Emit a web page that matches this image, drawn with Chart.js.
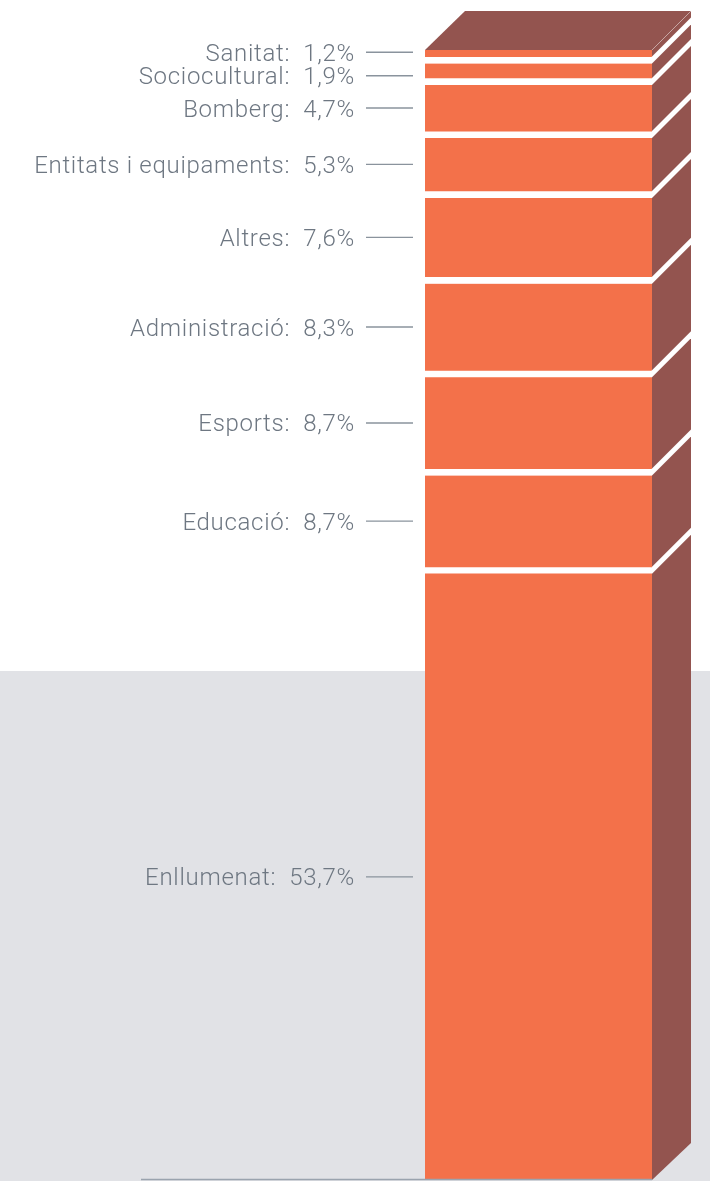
<!DOCTYPE html>
<html>
<head>
<meta charset="utf-8">
<style>
  html, body { margin: 0; padding: 0; background: #ffffff; }
  #wrap { width: 710px; height: 1181px; position: relative; }
  canvas { display: block; }
</style>
<script src="https://cdn.jsdelivr.net/npm/chart.js@4"></script>
</head>
<body>
<div id="wrap"><canvas id="c" width="710" height="1181"></canvas></div>
<script>
// Data: stacked from bottom to top
const categories = ['Enllumenat', 'Educació', 'Esports', 'Administració', 'Altres',
  'Entitats i equipaments', 'Bomberg', 'Sociocultural', 'Sanitat'];
const values = [53.7, 8.7, 8.7, 8.3, 7.6, 5.3, 4.7, 1.9, 1.2];
const valueLabels = ['53,7%', '8,7%', '8,7%', '8,3%', '7,6%', '5,3%', '4,7%', '1,9%', '1,2%'];
const total = values.reduce((a, b) => a + b, 0);

const ORANGE = '#f3714a';
const BROWN = '#93544f';
const GAP = 7;
const DEPTH = 39;
const TEXT = '#6e7782';
const LEADER = '#8a939d';
const GREY_BG = '#e1e2e6';

// label nudges to avoid crowding of the smallest segments (pixels)
const labelNudge = { 'Sanitat': -1, 'Sociocultural': 5 };

const datasets = categories.map((name, i) => ({
  label: name,
  data: [values[i]],
  backgroundColor: ORANGE,
  borderColor: '#ffffff',
  borderWidth: i === 0 ? 0 : { top: 0, left: 0, right: 0, bottom: GAP },
  borderSkipped: false,
  barPercentage: 1,
  categoryPercentage: 1
}));

const decor = {
  id: 'decor',
  beforeDraw(chart) {
    const ctx = chart.ctx;
    ctx.save();
    ctx.fillStyle = '#ffffff';
    ctx.fillRect(0, 0, chart.width, chart.height);
    ctx.fillStyle = GREY_BG;
    ctx.fillRect(0, 671, chart.width, chart.height - 671);
    ctx.restore();
  },
  afterDatasetsDraw(chart) {
    const ctx = chart.ctx;
    const area = chart.chartArea;
    const L = area.left, R = area.right, T = area.top, B = area.bottom;
    ctx.save();
    // side face
    ctx.fillStyle = BROWN;
    ctx.beginPath();
    ctx.moveTo(R, T);
    ctx.lineTo(R + DEPTH, T - DEPTH);
    ctx.lineTo(R + DEPTH, B - DEPTH + 2);
    ctx.lineTo(R, B);
    ctx.closePath();
    ctx.fill();
    // top face
    ctx.beginPath();
    ctx.moveTo(L, T);
    ctx.lineTo(L + DEPTH + 1, T - DEPTH);
    ctx.lineTo(R + DEPTH, T - DEPTH);
    ctx.lineTo(R, T);
    ctx.closePath();
    ctx.fill();
    // faint highlight on top-right edge
    ctx.strokeStyle = 'rgba(255,255,255,0.3)';
    ctx.lineWidth = 1;
    ctx.beginPath();
    ctx.moveTo(R, T);
    ctx.lineTo(R + DEPTH, T - DEPTH);
    ctx.stroke();

    // white stripes on side face, continuing the gaps
    ctx.fillStyle = '#ffffff';
    chart.data.datasets.forEach((ds, i) => {
      if (i === 0) return;
      const el = chart.getDatasetMeta(i).data[0];
      const base = el.base;
      ctx.beginPath();
      ctx.moveTo(R, base - GAP);
      ctx.lineTo(R + DEPTH, base - GAP - DEPTH);
      ctx.lineTo(R + DEPTH, base - DEPTH);
      ctx.lineTo(R, base);
      ctx.closePath();
      ctx.fill();
    });

    // labels with leader lines
    ctx.font = '300 24px Roboto, "Helvetica Neue", "Liberation Sans", Arial, sans-serif';
    try { ctx.letterSpacing = '0.7px'; } catch (e) {}
    ctx.textAlign = 'right';
    ctx.textBaseline = 'alphabetic';
    chart.data.datasets.forEach((ds, i) => {
      const el = chart.getDatasetMeta(i).data[0];
      const gap = i === 0 ? 0 : GAP;
      let cy = (el.y + el.base - gap) / 2;
      cy += labelNudge[ds.label] || 0;
      ctx.strokeStyle = LEADER;
      ctx.lineWidth = 1.3;
      ctx.beginPath();
      ctx.moveTo(L - 59, cy);
      ctx.lineTo(L - 12, cy);
      ctx.stroke();
      ctx.fillStyle = TEXT;
      ctx.fillText(ds.label + ':  ' + valueLabels[i], L - 70, cy + 8.5);
    });

    // baseline
    ctx.strokeStyle = '#9aa3ae';
    ctx.lineWidth = 1.5;
    ctx.beginPath();
    ctx.moveTo(141, B - 0.5);
    ctx.lineTo(R, B - 0.5);
    ctx.stroke();
    ctx.restore();
  }
};

new Chart(document.getElementById('c'), {
  type: 'bar',
  data: { labels: ['Consum'], datasets },
  options: {
    responsive: false,
    animation: false,
    layout: { padding: { left: 425, right: 58, top: 50, bottom: 1 } },
    plugins: { legend: { display: false }, tooltip: { enabled: false } },
    scales: {
      x: { stacked: true, display: false },
      y: { stacked: true, display: false, min: 0, max: total }
    }
  },
  plugins: [decor]
});
</script>
</body>
</html>
